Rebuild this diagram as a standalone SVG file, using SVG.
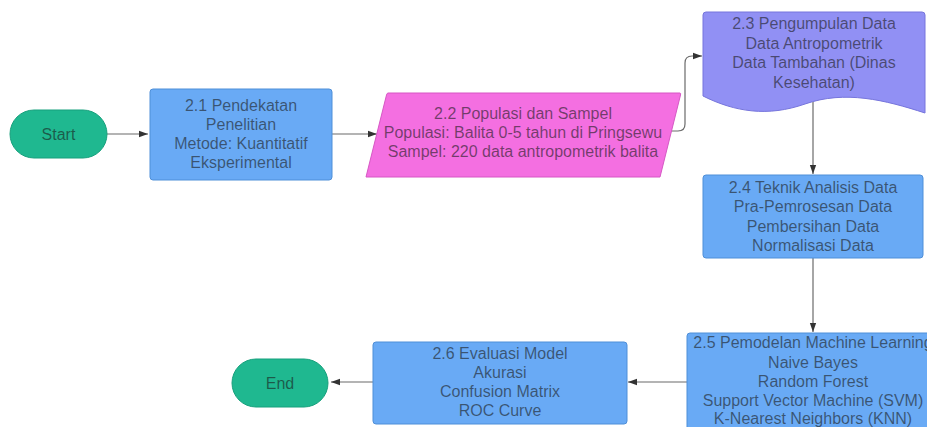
<svg xmlns="http://www.w3.org/2000/svg" width="927" height="427" viewBox="0 0 927 427">
<defs>
<style>
.t{font-family:"Liberation Sans",Arial,sans-serif;font-size:16px;text-anchor:middle;fill:#1a1a1a;fill-opacity:0.6}
.term{fill:#1fb890;stroke:#17a07c;stroke-width:1}
.box{fill:#69aaf5;stroke:#4f8fd8;stroke-width:1}
.c{fill:none;stroke:#6b6b6b;stroke-width:1.2}
</style>
<marker id="ah" viewBox="0 0 10 10" refX="10" refY="5" markerWidth="9" markerHeight="9" markerUnits="userSpaceOnUse" orient="auto">
<path d="M0,1.5 L10,5 L0,8.5 Z" fill="#333"/>
</marker>
</defs>
<rect width="927" height="427" fill="#ffffff"/>
<g id="connectors">
<path class="c" d="M107,134 H148" marker-end="url(#ah)"/>
<path class="c" d="M332,134 H377" marker-end="url(#ah)"/>
<path class="c" d="M669,131 H678 Q685,131 685,124 V63 Q685,56 692,56 H702" marker-end="url(#ah)"/>
<path class="c" d="M813,102 V174" marker-end="url(#ah)"/>
<path class="c" d="M813,258 V332" marker-end="url(#ah)"/>
<path class="c" d="M687,382 H628" marker-end="url(#ah)"/>
<path class="c" d="M373,382 H331" marker-end="url(#ah)"/>
</g>
<g id="start">
<rect class="term" x="10" y="110" width="97" height="48" rx="24"/>
<text class="t" x="58.5" y="139.5">Start</text>
</g>
<g id="n21">
<rect class="box" x="150" y="89" width="182" height="91" rx="3"/>
<text class="t" x="241" y="110.5">2.1 Pendekatan</text>
<text class="t" x="241" y="129.5">Penelitian</text>
<text class="t" x="241" y="148.5">Metode: Kuantitatif</text>
<text class="t" x="241" y="167.5">Eksperimental</text>
</g>
<g id="n22">
<path d="M388,93 H680 Q681,93 680.5,95 L660,177 H366 L386.5,95 Q387,93 388,93 Z" fill="#f46fe1" stroke="#d657c4" stroke-width="1"/>
<text class="t" x="523" y="118.5">2.2 Populasi dan Sampel</text>
<text class="t" x="523" y="137.5">Populasi: Balita 0-5 tahun di Pringsewu</text>
<text class="t" x="523" y="156.5">Sampel: 220 data antropometrik balita</text>
</g>
<g id="n23">
<path d="M706,12 H922 Q925,12 925,15 V113 C885,100 845,90 805,104 C768,117 735,112 703,96 V15 Q703,12 706,12 Z" fill="#9190f4" stroke="#7675dc" stroke-width="1"/>
<text class="t" x="814" y="28.5">2.3 Pengumpulan Data</text>
<text class="t" x="814" y="48.5">Data Antropometrik</text>
<text class="t" x="814" y="68">Data Tambahan (Dinas</text>
<text class="t" x="814" y="87.5">Kesehatan)</text>
</g>
<g id="n24">
<rect class="box" x="703" y="175" width="220" height="83" rx="3"/>
<text class="t" x="813" y="192.5">2.4 Teknik Analisis Data</text>
<text class="t" x="813" y="212">Pra-Pemrosesan Data</text>
<text class="t" x="813" y="231.5">Pembersihan Data</text>
<text class="t" x="813" y="251">Normalisasi Data</text>
</g>
<g id="n25">
<rect class="box" x="687" y="333" width="254" height="110" rx="3"/>
<text class="t" x="813" y="348">2.5 Pemodelan Machine Learning</text>
<text class="t" x="813" y="367.5">Naive Bayes</text>
<text class="t" x="813" y="387">Random Forest</text>
<text class="t" x="813" y="406">Support Vector Machine (SVM)</text>
<text class="t" x="813" y="424">K-Nearest Neighbors (KNN)</text>
</g>
<g id="n26">
<rect class="box" x="373" y="342" width="254" height="82" rx="3"/>
<text class="t" x="500" y="358.5">2.6 Evaluasi Model</text>
<text class="t" x="500" y="377.5">Akurasi</text>
<text class="t" x="500" y="397">Confusion Matrix</text>
<text class="t" x="500" y="415.5">ROC Curve</text>
</g>
<g id="end">
<rect class="term" x="232" y="359" width="96" height="48" rx="24"/>
<text class="t" x="280" y="388.5">End</text>
</g>
</svg>
